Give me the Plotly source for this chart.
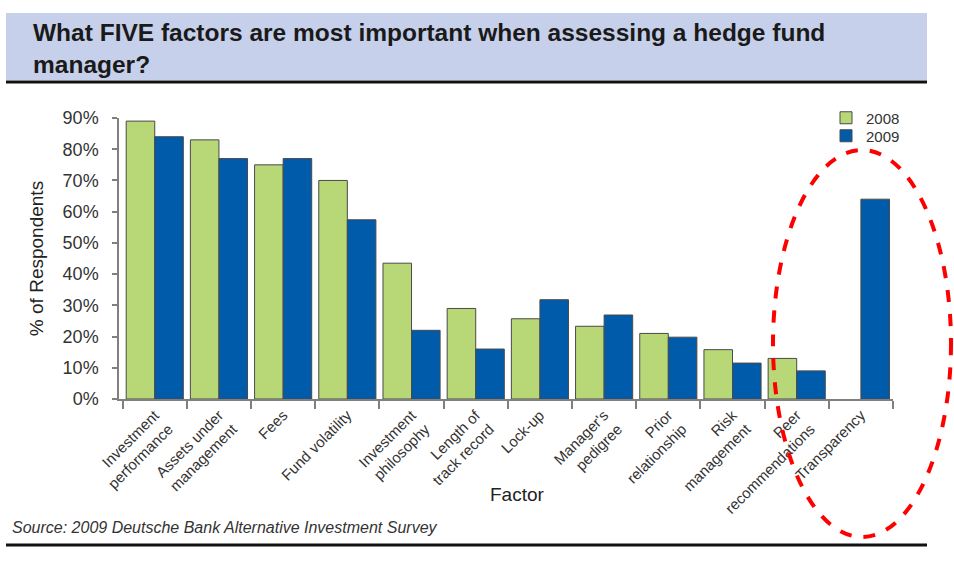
import plotly.graph_objects as go

factors = [
    "Investment<br>performance", "Assets under<br>management", "Fees", "Fund volatility",
    "Investment<br>philosophy", "Length of<br>track record", "Lock-up", "Manager's<br>pedigree",
    "Prior<br>relationship", "Risk<br>management", "Peer<br>recommendations", "Transparency",
]
values_2008 = [89, 83, 75, 70, 43.5, 29, 25.7, 23.3, 21, 15.8, 13, None]
values_2009 = [84, 77, 77, 57.4, 22, 16, 31.8, 26.9, 19.8, 11.5, 9, 64]
series_names = ["2008", "2009"]
colors = ["#B8D878", "#005BAA"]

W, H = 954, 563
L, R, T, B = 119, 61, 118, 164
pw, ph = W - L - R, H - T - B

def px(x):
    return (x - L) / pw

def py(y):
    return (H - B - y) / ph

fig = go.Figure()
for name, vals, col, lg in zip(series_names, [values_2008, values_2009], colors, ["legend", "legend2"]):
    fig.add_trace(go.Bar(
        x=factors, y=vals, name=name, legend=lg,
        marker=dict(color=col, line=dict(color="#4a4a4a", width=1)),
    ))

font_main = "Liberation Sans, Arial, sans-serif"
leg_common = dict(xanchor="left", yanchor="middle", font=dict(size=15, color="#333333"),
                  bgcolor="rgba(0,0,0,0)", borderwidth=0, itemwidth=30)

fig.update_layout(
    width=W, height=H,
    margin=dict(l=L, r=R, t=T, b=B),
    paper_bgcolor="white", plot_bgcolor="white",
    barmode="group", bargap=0.11, bargroupgap=0,
    font=dict(family=font_main, color="#333333"),
    showlegend=True,
    legend=dict(x=px(826), y=py(118), **leg_common),
    legend2=dict(x=px(826), y=py(136), **leg_common),
    xaxis=dict(
        type="category", range=[-0.557, 11.5], tickson="boundaries",
        ticks="outside", ticklen=8, tickcolor="#808080", tickwidth=1.5,
        showline=True, linecolor="#808080", linewidth=1.5,
        tickangle=-45, tickfont=dict(size=15, color="#333333"),
        showgrid=False,
    ),
    yaxis=dict(
        range=[0, 90], dtick=10, ticksuffix="%",
        ticks="outside", ticklen=5, tickcolor="#808080", tickwidth=1.5,
        showline=True, linecolor="#808080", linewidth=1.5,
        showgrid=False, zeroline=False, ticklabelstandoff=10,
        tickfont=dict(size=18, color="#333333"),
        title=dict(text="% of Respondents", font=dict(size=19, color="#222222"), standoff=14),
    ),
)

shapes = [
    dict(type="rect", xref="paper", yref="paper", x0=px(6), x1=px(927), y0=py(80), y1=py(13),
         fillcolor="#C6D0EA", line=dict(width=0), layer="below"),
    dict(type="line", xref="paper", yref="paper", x0=px(6), x1=px(927), y0=py(82), y1=py(82),
         line=dict(color="#111111", width=3)),
    dict(type="line", xref="paper", yref="paper", x0=px(6), x1=px(927), y0=py(545), y1=py(545),
         line=dict(color="#111111", width=3)),
    dict(type="circle", xref="paper", yref="paper", x0=px(773), x1=px(951), y0=py(537), y1=py(150),
         line=dict(color="#FF0000", width=4, dash="dash")),
]
fig.update_layout(shapes=shapes)

fig.add_annotation(
    xref="paper", yref="paper", x=px(31), y=py(16.5), xanchor="left", yanchor="top",
    text="<b>What FIVE factors are most important when assessing a hedge fund<br>manager?</b>",
    align="left", showarrow=False,
    font=dict(family=font_main, size=24.5, color="#1a1a1a"),
)
fig.add_annotation(
    xref="paper", yref="paper", x=px(517), y=py(494), xanchor="center", yanchor="middle",
    text="Factor", showarrow=False, font=dict(family=font_main, size=19, color="#222222"),
)
fig.add_annotation(
    xref="paper", yref="paper", x=px(10), y=py(527), xanchor="left", yanchor="middle",
    text="<i>Source: 2009 Deutsche Bank Alternative Investment Survey</i>",
    showarrow=False, font=dict(family=font_main, size=16, color="#333333"),
)

fig.write_html("out.html", config={"displayModeBar": False},
               post_script="document.body.style.margin='0';")
